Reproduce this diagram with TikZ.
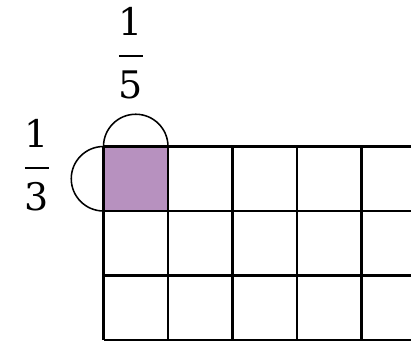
\documentclass[tikz,border=0pt]{standalone}
\usepackage{fontspec}
\usepackage{tikz}
\newfontfamily\fracfont{DejaVu Serif}
\definecolor{cellpurple}{RGB}{183,145,191}
% stacked fraction: numerator, bar, denominator
\newcommand{\stackfrac}[2]{\vbox{\offinterlineskip\halign{\hfil##\hfil\cr #1\cr
  \noalign{\kern14pt\hrule height 1.3pt\kern9.5pt}#2\cr}}}

\begin{document}
\begin{tikzpicture}[
    x=0.025cm, y=0.025cm,   % 1 unit = 1 pixel of the reference
    % Styles
    gridline/.style={black, line width=1.5pt},
    halfdisc/.style={black, line width=1.1pt},
    fraclabel/.style={font=\fracfont\fontsize{27}{32}\selectfont, inner sep=0pt}
  ]
  \useasboundingbox (0,0) rectangle (411,341);
  \clip (0,0) rectangle (411,341);

  % --- 1. shaded cell ---
  \fill[cellpurple] (103.5,130) rectangle (168,194.5);

  % --- 2. grid (cut off on the right) ---
  \foreach \i in {0,...,5}
    \draw[gridline] (103.5+64.5*\i,1) -- (103.5+64.5*\i,194.5);
  \foreach \j in {0,...,3}
    \draw[gridline] (103.5,1+64.5*\j) -- (430,1+64.5*\j);

  % --- 3. half circles on the shaded cell ---
  \draw[halfdisc] (103.5,194.5) arc[start angle=180, end angle=0, radius=32.25];
  \draw[halfdisc] (103.5,194.5) arc[start angle=90, end angle=270, radius=32.25];

  % --- 4. fractions ---
  \node[fraclabel] (fracTop) at (131,288) {\stackfrac{1}{5}};
  \node[fraclabel] (fracLeft) at (37,176) {\stackfrac{1}{3}};
\end{tikzpicture}
\end{document}
